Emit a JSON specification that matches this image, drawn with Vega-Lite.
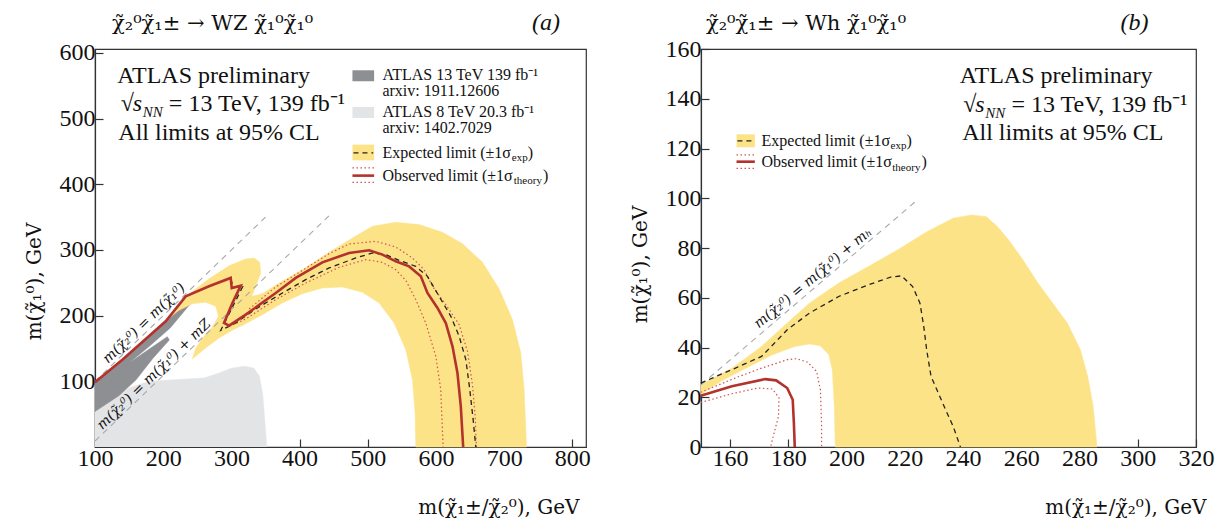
{
"$schema": "https://vega.github.io/schema/vega-lite/v6.json",
"padding": {"left": 23, "top": 10, "right": 0, "bottom": 0},
"background": "white",
"spacing": 115,
"bounds": "flush",
"datasets": {
"a_light": [{"x":100,"y":0},{"x":100,"y":54},{"x":125,"y":72},{"x":150,"y":90},{"x":179,"y":100},{"x":210,"y":102},{"x":240,"y":104},{"x":260,"y":105},{"x":280,"y":112},{"x":300,"y":120},{"x":320,"y":123},{"x":333,"y":120},{"x":341,"y":108},{"x":346,"y":80},{"x":349,"y":40},{"x":352,"y":0}],
"a_dark": [{"x":100,"y":99},{"x":140,"y":134},{"x":204,"y":193},{"x":240,"y":232},{"x":244,"y":223},{"x":210,"y":181},{"x":178,"y":152},{"x":150,"y":128},{"x":178,"y":148},{"x":206,"y":168},{"x":209,"y":163},{"x":185,"y":135},{"x":160,"y":102},{"x":135,"y":78},{"x":100,"y":54}],
"a_yellow": [{"x":208.6,"y":196},{"x":237.9,"y":233},{"x":267.2,"y":256},{"x":296.6,"y":276},{"x":321,"y":286.3},{"x":333.3,"y":287.8},{"x":341.6,"y":281.2},{"x":343,"y":265},{"x":335.7,"y":244.7},{"x":329.8,"y":229.4},{"x":345.5,"y":233.5},{"x":369.9,"y":249.7},{"x":404.2,"y":270},{"x":443.3,"y":296.4},{"x":477.5,"y":318.3},{"x":506.8,"y":336},{"x":541,"y":342.1},{"x":575.3,"y":338.6},{"x":609.5,"y":326.9},{"x":638.9,"y":309.6},{"x":668.2,"y":281.2},{"x":692.7,"y":240.6},{"x":712.2,"y":193.9},{"x":724.4,"y":143.1},{"x":729.3,"y":87.3},{"x":732.8,"y":0},{"x":570.4,"y":0},{"x":569.4,"y":51.8},{"x":565.5,"y":102.5},{"x":555.7,"y":148.2},{"x":538.6,"y":188.8},{"x":516.6,"y":219.3},{"x":492.2,"y":235.5},{"x":462.8,"y":243.7},{"x":433.5,"y":242.1},{"x":404.2,"y":233.5},{"x":374.8,"y":219.3},{"x":345.5,"y":201.5},{"x":321,"y":187.8},{"x":301.5,"y":177.7},{"x":281.9,"y":166},{"x":262.3,"y":150.8},{"x":247.7,"y":138},{"x":242.8,"y":134},{"x":247.7,"y":150.8},{"x":259.9,"y":168.5},{"x":272.1,"y":182.7},{"x":281,"y":199},{"x":277,"y":214.2},{"x":262.3,"y":220.3},{"x":242.8,"y":218.3},{"x":223.2,"y":208.1},{"x":208.6,"y":196.4}],
"a_obs": [{"x":100,"y":98.5},{"x":140.1,"y":133},{"x":203.7,"y":191.4},{"x":233,"y":229.4},{"x":267.2,"y":244.7},{"x":299,"y":257.4},{"x":300.5,"y":242},{"x":313.7,"y":245.7},{"x":301.5,"y":219.3},{"x":289.2,"y":188.8},{"x":296.6,"y":184.8},{"x":321,"y":201.5},{"x":365,"y":234.5},{"x":394.4,"y":257.4},{"x":433.5,"y":281.2},{"x":472.6,"y":295.4},{"x":502,"y":299.5},{"x":521.5,"y":292.9},{"x":541,"y":282.7},{"x":560.6,"y":275},{"x":577.8,"y":260},{"x":587.5,"y":234.5},{"x":602.2,"y":211.7},{"x":614.4,"y":188.8},{"x":624.2,"y":153.3},{"x":631.5,"y":112.7},{"x":636.4,"y":61.9},{"x":639.9,"y":0}],
"a_exp": [{"x":299,"y":256},{"x":303,"y":243},{"x":316.5,"y":244},{"x":304,"y":218},{"x":284.4,"y":177.7},{"x":306.4,"y":188.8},{"x":335.7,"y":210.2},{"x":374.8,"y":234.5},{"x":409,"y":254.8},{"x":443.3,"y":272.6},{"x":482.4,"y":287.8},{"x":506.8,"y":295.4},{"x":526.4,"y":292.9},{"x":546,"y":284.3},{"x":570.4,"y":275.1},{"x":587.5,"y":259.9},{"x":604.6,"y":229.4},{"x":621.8,"y":199},{"x":634,"y":168.5},{"x":643.8,"y":133},{"x":649.6,"y":87.3},{"x":654.5,"y":41.6},{"x":658.4,"y":0}],
"a_theory": [{"side":"up","x":326,"y":210.2},{"side":"up","x":365,"y":243.7},{"side":"up","x":404.2,"y":269},{"side":"up","x":443.3,"y":294.4},{"side":"up","x":472.6,"y":309.1},{"side":"up","x":511.7,"y":313.2},{"side":"up","x":541,"y":304.6},{"side":"up","x":565.5,"y":287.8},{"side":"up","x":582.6,"y":270},{"side":"up","x":594.9,"y":244.7},{"side":"up","x":614.4,"y":216.8},{"side":"up","x":634,"y":186.3},{"side":"up","x":646.2,"y":145.7},{"side":"up","x":653.5,"y":94.9},{"side":"up","x":657.5,"y":46.7},{"side":"up","x":659.4,"y":0},
{"side":"down","x":296.6,"y":183.8},{"side":"down","x":321,"y":194.9},{"side":"down","x":365,"y":224.4},{"side":"down","x":409,"y":249.7},{"side":"down","x":458,"y":273.6},{"side":"down","x":497,"y":285.3},{"side":"down","x":521.5,"y":281.2},{"side":"down","x":541,"y":270},{"side":"down","x":555.7,"y":253.8},{"side":"down","x":570.4,"y":224.4},{"side":"down","x":585,"y":188.8},{"side":"down","x":599.8,"y":138},{"side":"down","x":607,"y":87.3},{"side":"down","x":610.5,"y":0}],
"a_diag": [{"x":100,"y":100,"x2":350,"y2":350},{"x":100,"y":9,"x2":443,"y2":352}],
"a_sw": [{"x":477.5,"x2":509.3,"y":556.9,"y2":573.6,"k":"dark"},{"x":477.5,"x2":509.3,"y":501,"y2":517.8,"k":"light"},{"x":477.5,"x2":509.3,"y":436.5,"y2":460.4,"k":"yellow"}],
"a_ll": [{"x":479,"x2":508,"y":447.7,"k":"exp"},{"x":477.5,"x2":509.3,"y":424.9,"k":"th"},{"x":477.5,"x2":509.3,"y":413.2,"k":"obs"},{"x":477.5,"x2":509.3,"y":403,"k":"th"}],
"a_text": [{"x":125,"y":635,"text":"χ̃₂⁰χ̃₁± → WZ χ̃₁⁰χ̃₁⁰","role":"title"},{"x":782,"y":635,"text":"(a)","role":"tag"},{"x":132.8,"y":554,"text":"ATLAS preliminary","role":"note"},{"x":134.2,"y":467,"text":"All limits at 95% CL","role":"note"},{"x":137.7,"y":511,"text":"√","role":"note"},{"x":155.3,"y":511,"text":"s","role":"noteit"},{"x":170,"y":502,"text":"NN","role":"sub"},{"x":208.3,"y":511,"text":"= 13 TeV, 139 fb⁻¹","role":"note"},{"x":521.5,"y":558.4,"text":"ATLAS 13 TeV 139 fb⁻¹","role":"leg"},{"x":521.5,"y":534,"text":"arxiv: 1911.12606","role":"leg"},{"x":521.5,"y":502.5,"text":"ATLAS 8 TeV 20.3 fb⁻¹","role":"leg"},{"x":521.5,"y":478.2,"text":"arxiv: 1402.7029","role":"leg"},{"x":521.5,"y":440.1,"text":"Expected limit (±1σ","role":"leg"},{"x":711.2,"y":436,"text":"exp","role":"legsub"},{"x":734.7,"y":440.1,"text":")","role":"leg"},{"x":521.5,"y":404.6,"text":"Observed limit (±1σ","role":"leg"},{"x":714.1,"y":400.5,"text":"theory","role":"legsub"},{"x":756.8,"y":404.6,"text":")","role":"leg"}],
"a_dtext": [{"x":172,"y":188,"text":"m(χ̃₂⁰) = m(χ̃₁⁰)"},{"x":186.6,"y":110.2,"text":"m(χ̃₂⁰) = m(χ̃₁⁰) + mZ"}],
"b_yellow": [{"x":149.9,"y":25},{"x":160.6,"y":31.7},{"x":170.8,"y":40.4},{"x":179.6,"y":49.8},{"x":187.2,"y":57.8},{"x":197.3,"y":65.9},{"x":207.5,"y":72.6},{"x":217.6,"y":79.3},{"x":227.7,"y":86.6},{"x":236.6,"y":92},{"x":242.9,"y":93.3},{"x":248,"y":92.6},{"x":251.8,"y":88.6},{"x":255.6,"y":83.3},{"x":260.6,"y":75.2},{"x":265.7,"y":65.9},{"x":270.8,"y":57.8},{"x":275.8,"y":49.8},{"x":280.3,"y":39.1},{"x":282.8,"y":28.4},{"x":284.7,"y":16.3},{"x":286,"y":0},{"x":196.1,"y":0},{"x":195.8,"y":16.3},{"x":195.1,"y":31.1},{"x":193.9,"y":37.1},{"x":191,"y":40.7},{"x":187.2,"y":41.4},{"x":182.2,"y":40.4},{"x":174.6,"y":37.1},{"x":164.4,"y":31.1},{"x":156.8,"y":26.4},{"x":149.9,"y":21}],
"b_exp": [{"x":149.9,"y":25.7},{"x":160.6,"y":31.1},{"x":170.8,"y":36.4},{"x":179.6,"y":47.1},{"x":187.2,"y":53.8},{"x":197.3,"y":60.5},{"x":207.5,"y":65.2},{"x":215.1,"y":68.3},{"x":218.9,"y":68.8},{"x":222.7,"y":64.5},{"x":225.2,"y":57.8},{"x":226.5,"y":48.5},{"x":227.5,"y":39.1},{"x":229,"y":28.4},{"x":231.5,"y":21.7},{"x":234,"y":15},{"x":236.6,"y":8.3},{"x":239.1,"y":0}],
"b_obs": [{"x":149.9,"y":20.6},{"x":160.6,"y":24.4},{"x":172,"y":27.3},{"x":175.8,"y":26.8},{"x":179.6,"y":23.7},{"x":181.5,"y":19},{"x":181.9,"y":9.6},{"x":182.2,"y":0}],
"b_theory": [{"side":"up","x":149.9,"y":22},{"side":"up","x":163.2,"y":28.4},{"side":"up","x":170.8,"y":31.7},{"side":"up","x":179.6,"y":35.1},{"side":"up","x":182.8,"y":35.5},{"side":"up","x":186.6,"y":34.1},{"side":"up","x":189.7,"y":30.4},{"side":"up","x":191,"y":23},{"side":"up","x":191.4,"y":9.6},{"side":"up","x":191.4,"y":0},
{"side":"down","x":149.9,"y":17.9},{"side":"down","x":160.6,"y":21.4},{"side":"down","x":169.5,"y":23.7},{"side":"down","x":174.6,"y":23.3},{"side":"down","x":176.8,"y":19.7},{"side":"down","x":176.6,"y":12.3},{"side":"down","x":174.8,"y":4.3},{"side":"down","x":173.9,"y":0}],
"b_diag": [{"x":150,"y":25,"x2":224,"y2":99}],
"b_sw": [{"x":162.2,"x2":168.5,"y":120.5,"y2":125.7,"k":"yellow"}],
"b_ll": [{"x":162.5,"x2":168.2,"y":123.1,"k":"exp"},{"x":162.2,"x2":168.5,"y":117.4,"k":"th"},{"x":162.2,"x2":168.5,"y":114.7,"k":"obs"},{"x":162.2,"x2":168.5,"y":112,"k":"th"}],
"b_text": [{"x":151.7,"y":167.7,"text":"χ̃₂⁰χ̃₁± → Wh χ̃₁⁰χ̃₁⁰","role":"title"},{"x":303.7,"y":167.7,"text":"(b)","role":"tag"},{"x":238.9,"y":146.2,"text":"ATLAS preliminary","role":"note"},{"x":239.7,"y":123.4,"text":"All limits at 95% CL","role":"note"},{"x":240.1,"y":134.8,"text":"√","role":"note"},{"x":244.2,"y":134.8,"text":"s","role":"noteit"},{"x":247.6,"y":132.4,"text":"NN","role":"sub"},{"x":256.6,"y":134.8,"text":"= 13 TeV, 139 fb⁻¹","role":"note"},{"x":170.8,"y":121,"text":"Expected limit (±1σ","role":"leg"},{"x":215.1,"y":119.6,"text":"exp","role":"legsub"},{"x":220.6,"y":121,"text":")","role":"leg"},{"x":170.8,"y":112.4,"text":"Observed limit (±1σ","role":"leg"},{"x":215.7,"y":111,"text":"theory","role":"legsub"},{"x":225.7,"y":112.4,"text":")","role":"leg"}],
"b_dtext": [{"x":188.5,"y":67.9,"text":"m(χ̃₂⁰) = m(χ̃₁⁰) + mₕ"}]
},
"hconcat": [
{
"width": 491, "height": 398,
"encoding": {
 "x": {"field": "x", "type": "quantitative", "scale": {"domain": [100, 820], "nice": false, "zero": false}, "axis": {"values": [100,200,300,400,500,600,700,800], "title": "m(χ̃₁±/χ̃₂⁰), GeV", "titleX": 484, "titleY": 66, "titleAlign": "right", "titleBaseline": "alphabetic", "labelPadding": 7}},
 "y": {"field": "y", "type": "quantitative", "scale": {"domain": [0, 606], "nice": false, "zero": false}, "axis": {"values": [100,200,300,400,500,600], "title": "m(χ̃₁⁰), GeV", "titleX": -61, "titleY": 232, "titleAngle": -90, "titleAlign": "center", "titleBaseline": "middle"}}
},
"layer": [
 {"data": {"name": "a_light"}, "mark": {"type": "line", "fill": "#e3e4e6", "stroke": "#e3e4e6", "strokeWidth": 0.5}, "encoding": {"order": {"value": null}}},
 {"data": {"name": "a_dark"}, "mark": {"type": "line", "fill": "#8e8f93", "stroke": "#8e8f93", "strokeWidth": 0.5}, "encoding": {"order": {"value": null}}},
 {"data": {"name": "a_yellow"}, "mark": {"type": "line", "fill": "#fde388", "stroke": "#fde388", "strokeWidth": 0.5}, "encoding": {"order": {"value": null}}},
 {"data": {"name": "a_diag"}, "mark": {"type": "rule", "color": "#a8a8a8", "strokeWidth": 1.1, "strokeDash": [6, 5]}, "encoding": {"x2": {"field": "x2"}, "y2": {"field": "y2"}}},
 {"data": {"name": "a_theory"}, "mark": {"type": "line", "color": "#cf5550", "strokeWidth": 1.2, "strokeDash": [1.5, 2.5]}, "encoding": {"detail": {"field": "side"}, "order": {"value": null}}},
 {"data": {"name": "a_exp"}, "mark": {"type": "line", "color": "#222222", "strokeWidth": 1.3, "strokeDash": [5, 4]}, "encoding": {"order": {"value": null}}},
 {"data": {"name": "a_obs"}, "mark": {"type": "line", "color": "#b3322b", "strokeWidth": 2.6}, "encoding": {"order": {"value": null}}},
 {"data": {"name": "a_sw"}, "mark": {"type": "rect"}, "encoding": {"x2": {"field": "x2"}, "y2": {"field": "y2"}, "color": {"field": "k", "type": "nominal", "scale": {"domain": ["dark", "light", "yellow"], "range": ["#8e8f93", "#e3e4e6", "#fde388"]}, "legend": null}}},
 {"data": {"name": "a_ll"}, "transform": [{"filter": "datum.k == 'exp'"}], "mark": {"type": "rule", "color": "#222222", "strokeWidth": 1.3, "strokeDash": [5, 4]}, "encoding": {"x2": {"field": "x2"}}},
 {"data": {"name": "a_ll"}, "transform": [{"filter": "datum.k == 'th'"}], "mark": {"type": "rule", "color": "#cf5550", "strokeWidth": 1.2, "strokeDash": [1.5, 2.5]}, "encoding": {"x2": {"field": "x2"}}},
 {"data": {"name": "a_ll"}, "transform": [{"filter": "datum.k == 'obs'"}], "mark": {"type": "rule", "color": "#b3322b", "strokeWidth": 2.6}, "encoding": {"x2": {"field": "x2"}}},
 {"data": {"name": "a_dtext"}, "mark": {"type": "text", "fontSize": 14, "fontStyle": "italic", "angle": -44, "align": "center", "baseline": "middle", "font": "DejaVu Serif", "color": "#111"}, "encoding": {"text": {"field": "text"}}},
 {"data": {"name": "a_text"}, "transform": [{"filter": "datum.role == 'note'"}], "mark": {"type": "text", "fontSize": 24, "align": "left", "baseline": "alphabetic", "font": "Liberation Serif", "color": "#111"}, "encoding": {"text": {"field": "text"}}},
 {"data": {"name": "a_text"}, "transform": [{"filter": "datum.role == 'noteit'"}], "mark": {"type": "text", "fontSize": 24, "fontStyle": "italic", "align": "left", "baseline": "alphabetic", "font": "Liberation Serif", "color": "#111"}, "encoding": {"text": {"field": "text"}}},
 {"data": {"name": "a_text"}, "transform": [{"filter": "datum.role == 'sub'"}], "mark": {"type": "text", "fontSize": 15, "fontStyle": "italic", "align": "left", "baseline": "alphabetic", "font": "Liberation Serif", "color": "#111"}, "encoding": {"text": {"field": "text"}}},
 {"data": {"name": "a_text"}, "transform": [{"filter": "datum.role == 'leg'"}], "mark": {"type": "text", "fontSize": 16, "align": "left", "baseline": "alphabetic", "font": "Liberation Serif", "color": "#111"}, "encoding": {"text": {"field": "text"}}},
 {"data": {"name": "a_text"}, "transform": [{"filter": "datum.role == 'legsub'"}], "mark": {"type": "text", "fontSize": 11, "align": "left", "baseline": "alphabetic", "font": "Liberation Serif", "color": "#111"}, "encoding": {"text": {"field": "text"}}},
 {"data": {"name": "a_text"}, "transform": [{"filter": "datum.role == 'title'"}], "mark": {"type": "text", "fontSize": 21, "align": "left", "baseline": "alphabetic", "font": "DejaVu Serif", "color": "#111", "clip": false}, "encoding": {"text": {"field": "text"}}},
 {"data": {"name": "a_text"}, "transform": [{"filter": "datum.role == 'tag'"}], "mark": {"type": "text", "fontSize": 24, "fontStyle": "italic", "align": "right", "baseline": "alphabetic", "font": "Liberation Serif", "color": "#111", "clip": false}, "encoding": {"text": {"field": "text"}}}
]
},
{
"width": 495, "height": 398,
"encoding": {
 "x": {"field": "x", "type": "quantitative", "scale": {"domain": [150, 320], "nice": false, "zero": false}, "axis": {"values": [160,180,200,220,240,260,280,300,320], "title": "m(χ̃₁±/χ̃₂⁰), GeV", "titleX": 505, "titleY": 66, "titleAlign": "right", "titleBaseline": "alphabetic", "labelPadding": 7}},
 "y": {"field": "y", "type": "quantitative", "scale": {"domain": [0, 160], "nice": false, "zero": false}, "axis": {"values": [0,20,40,60,80,100,120,140,160], "title": "m(χ̃₁⁰), GeV", "titleX": -61, "titleY": 215, "titleAngle": -90, "titleAlign": "center", "titleBaseline": "middle"}}
},
"layer": [
 {"data": {"name": "b_yellow"}, "mark": {"type": "line", "fill": "#fde388", "stroke": "#fde388", "strokeWidth": 0.5}, "encoding": {"order": {"value": null}}},
 {"data": {"name": "b_diag"}, "mark": {"type": "rule", "color": "#a8a8a8", "strokeWidth": 1.1, "strokeDash": [6, 5]}, "encoding": {"x2": {"field": "x2"}, "y2": {"field": "y2"}}},
 {"data": {"name": "b_theory"}, "mark": {"type": "line", "color": "#cf5550", "strokeWidth": 1.2, "strokeDash": [1.5, 2.5]}, "encoding": {"detail": {"field": "side"}, "order": {"value": null}}},
 {"data": {"name": "b_exp"}, "mark": {"type": "line", "color": "#222222", "strokeWidth": 1.3, "strokeDash": [5, 4]}, "encoding": {"order": {"value": null}}},
 {"data": {"name": "b_obs"}, "mark": {"type": "line", "color": "#b3322b", "strokeWidth": 2.6}, "encoding": {"order": {"value": null}}},
 {"data": {"name": "b_sw"}, "mark": {"type": "rect", "color": "#fde388"}, "encoding": {"x2": {"field": "x2"}, "y2": {"field": "y2"}}},
 {"data": {"name": "b_ll"}, "transform": [{"filter": "datum.k == 'exp'"}], "mark": {"type": "rule", "color": "#222222", "strokeWidth": 1.3, "strokeDash": [5, 4]}, "encoding": {"x2": {"field": "x2"}}},
 {"data": {"name": "b_ll"}, "transform": [{"filter": "datum.k == 'th'"}], "mark": {"type": "rule", "color": "#cf5550", "strokeWidth": 1.2, "strokeDash": [1.5, 2.5]}, "encoding": {"x2": {"field": "x2"}}},
 {"data": {"name": "b_ll"}, "transform": [{"filter": "datum.k == 'obs'"}], "mark": {"type": "rule", "color": "#b3322b", "strokeWidth": 2.6}, "encoding": {"x2": {"field": "x2"}}},
 {"data": {"name": "b_dtext"}, "mark": {"type": "text", "fontSize": 14, "fontStyle": "italic", "angle": -40, "align": "center", "baseline": "middle", "font": "DejaVu Serif", "color": "#111"}, "encoding": {"text": {"field": "text"}}},
 {"data": {"name": "b_text"}, "transform": [{"filter": "datum.role == 'note'"}], "mark": {"type": "text", "fontSize": 24, "align": "left", "baseline": "alphabetic", "font": "Liberation Serif", "color": "#111"}, "encoding": {"text": {"field": "text"}}},
 {"data": {"name": "b_text"}, "transform": [{"filter": "datum.role == 'noteit'"}], "mark": {"type": "text", "fontSize": 24, "fontStyle": "italic", "align": "left", "baseline": "alphabetic", "font": "Liberation Serif", "color": "#111"}, "encoding": {"text": {"field": "text"}}},
 {"data": {"name": "b_text"}, "transform": [{"filter": "datum.role == 'sub'"}], "mark": {"type": "text", "fontSize": 15, "fontStyle": "italic", "align": "left", "baseline": "alphabetic", "font": "Liberation Serif", "color": "#111"}, "encoding": {"text": {"field": "text"}}},
 {"data": {"name": "b_text"}, "transform": [{"filter": "datum.role == 'leg'"}], "mark": {"type": "text", "fontSize": 16, "align": "left", "baseline": "alphabetic", "font": "Liberation Serif", "color": "#111"}, "encoding": {"text": {"field": "text"}}},
 {"data": {"name": "b_text"}, "transform": [{"filter": "datum.role == 'legsub'"}], "mark": {"type": "text", "fontSize": 11, "align": "left", "baseline": "alphabetic", "font": "Liberation Serif", "color": "#111"}, "encoding": {"text": {"field": "text"}}},
 {"data": {"name": "b_text"}, "transform": [{"filter": "datum.role == 'title'"}], "mark": {"type": "text", "fontSize": 21, "align": "left", "baseline": "alphabetic", "font": "DejaVu Serif", "color": "#111", "clip": false}, "encoding": {"text": {"field": "text"}}},
 {"data": {"name": "b_text"}, "transform": [{"filter": "datum.role == 'tag'"}], "mark": {"type": "text", "fontSize": 24, "fontStyle": "italic", "align": "right", "baseline": "alphabetic", "font": "Liberation Serif", "color": "#111", "clip": false}, "encoding": {"text": {"field": "text"}}}
]
}
],
"config": {
 "view": {"stroke": "#333333", "strokeWidth": 1.2},
 "axis": {"grid": false, "domainColor": "#333333", "domainWidth": 1.2, "tickColor": "#333333", "tickSize": -8, "tickWidth": 1.2, "labelFont": "Liberation Serif", "labelFontSize": 24, "labelColor": "#111111", "labelPadding": 8, "labelOverlap": false, "labelFlush": false, "titleFont": "DejaVu Serif", "titleFontSize": 20, "titleFontWeight": "normal", "titleColor": "#111111"}
}
}
